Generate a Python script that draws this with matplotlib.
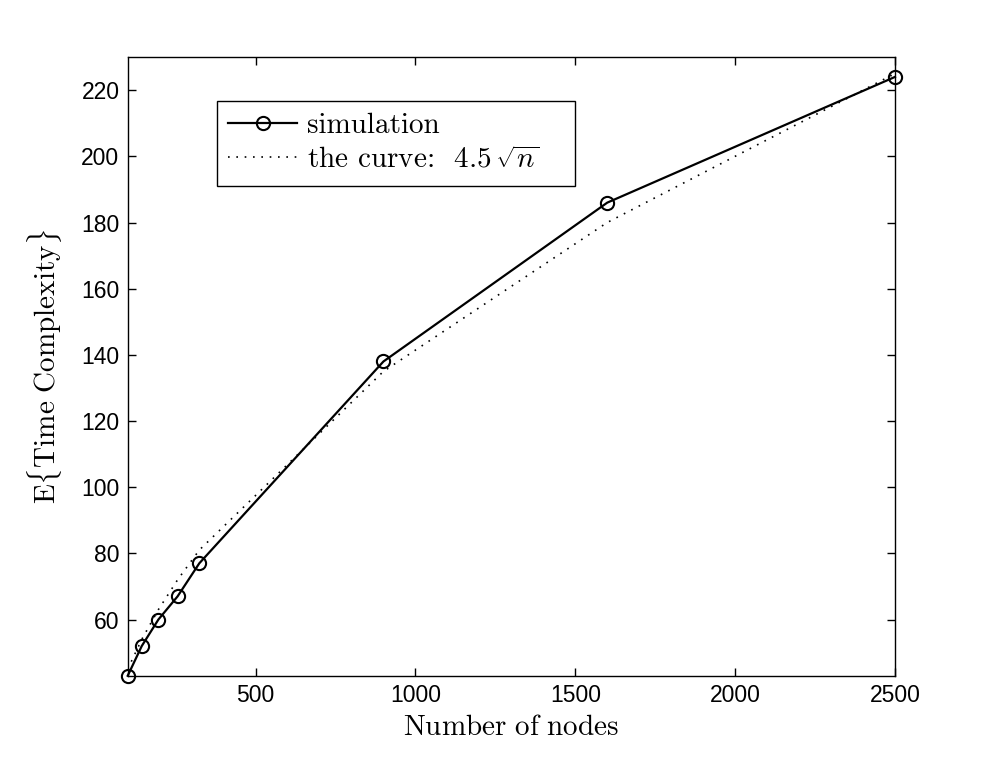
import matplotlib
matplotlib.use("Agg")
import matplotlib.pyplot as plt
from matplotlib.patches import Rectangle

plt.rcParams['mathtext.fontset'] = 'cm'

nodes = [100, 144, 196, 256, 324, 900, 1600, 2500]
simulation = [43, 52, 60, 67, 77, 138, 186, 224]
curve = [45, 54, 63, 72, 81, 135, 180, 225]
xticks = [500, 1000, 1500, 2000, 2500]
yticks = [60, 80, 100, 120, 140, 160, 180, 200, 220]

fig = plt.figure(figsize=(9.9, 7.61), dpi=100)
ax = fig.add_axes([0.129, 0.112, 0.775, 0.813])

ax.plot(nodes, simulation, '-o', color='black', lw=1.6, markersize=9.5,
        markerfacecolor='none', markeredgewidth=1.5, label='simulation',
        clip_on=False, zorder=3)
ax.plot(nodes, curve, color='black', lw=1.2, dashes=(1, 4),
        label=r'the curve:  $4.5\,\sqrt{n}$')

ax.set_xlim(100, 2500)
ax.set_ylim(43, 230)
ax.set_xticks(xticks)
ax.set_yticks(yticks)
ax.tick_params(direction='in', top=True, right=True, length=6, width=1,
               labelsize=16.5, pad=6)
for lab in ax.get_xticklabels() + ax.get_yticklabels():
    lab.set_fontfamily('Liberation Sans')
for s in ax.spines.values():
    s.set_linewidth(1.0)

ax.set_xlabel(r'$\mathrm{Number\ of\ nodes}$', fontsize=21, labelpad=4)
ax.set_ylabel(r'$\mathrm{E\{Time\ Complexity\}}$', fontsize=21, labelpad=12)

# legend frame (wider than content, as in the original)
frame = Rectangle((0.2192, 0.7556), 0.3616, 0.1117, transform=fig.transFigure,
                  facecolor='white', edgecolor='black', lw=1.0, zorder=4)
fig.add_artist(frame)

leg = ax.legend(loc='upper left', bbox_to_anchor=(0.219, 0.867),
                bbox_transform=fig.transFigure, borderaxespad=0,
                prop={'size': 21, 'family': 'cmr10'}, frameon=False,
                handlelength=2.35, handletextpad=0.35, borderpad=0.4,
                labelspacing=0.25)
leg.set_zorder(5)
leg.remove()
fig.add_artist(leg)

fig.savefig('out.png', dpi=100)
